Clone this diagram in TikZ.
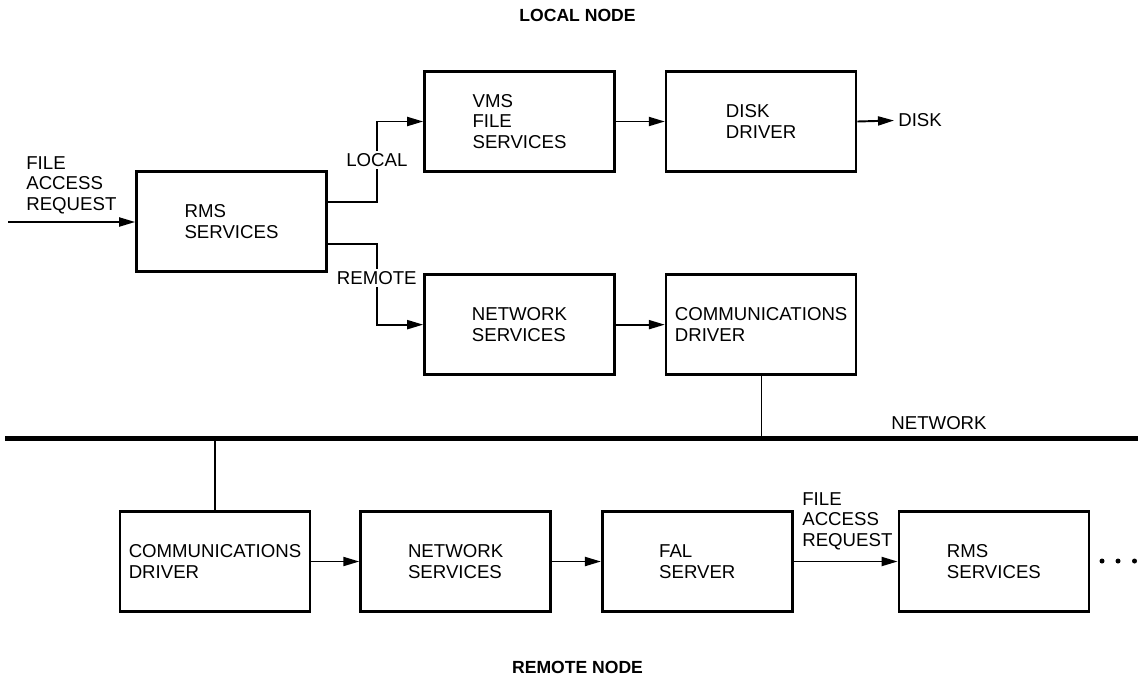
\documentclass[tikz,border=0pt]{standalone}
\usepackage{fontspec}
\setmainfont{Liberation Sans}
\usetikzlibrary{positioning, arrows.meta}
\newcommand{\dgmfont}{\fontsize{10.6}{11.6}\selectfont}

\begin{document}
\begin{tikzpicture}[
  blk/.style={draw, line width=1.5pt, minimum width=3.8cm, minimum height=2cm, align=left, font=\dgmfont},
  lbl/.style={align=left, font=\dgmfont, inner sep=0pt},
  title/.style={font=\fontsize{10}{12}\selectfont\bfseries},
  arr/.style={-{Triangle[length=3.2mm, width=1.8mm]}, line width=1.1pt},
  link/.style={line width=0.6pt},
  net/.style={line width=2.4pt}
]
  \useasboundingbox (0,0) rectangle (22.76,-13.56);

  \node[title] (ltitle) at (11.55,-0.3) {LOCAL NODE};
  \node[title] (rtitle) at (11.55,-13.34) {REMOTE NODE};

  % Local node: incoming request
  \node[blk] (rms) at (4.63,-4.43) {RMS\\SERVICES};
  \coordinate (req) at (0.16,-4.44);
  \node[lbl, anchor=south west] (reqlbl) at (0.52,-4.28) {FILE\\ACCESS\\REQUEST};
  \draw[arr] (req) -- (req -| rms.west);

  % Local branch down to the disk
  \node[blk] (vms) at (10.39,-2.43) {VMS\\FILE\\SERVICES};
  \node[blk, right=0.98cm of vms] (disk) {DISK\\DRIVER};
  \node[lbl, anchor=west] (dsk) at (17.96,-2.41) {DISK};
  \draw[arr] ([yshift=0.39cm]rms.east) -- ++(0.98,0) |- (vms.west)
    node[pos=0.26, lbl, fill=white, inner sep=1.5pt] (loclbl) {LOCAL};
  \draw[arr] (vms) -- (disk);
  \draw[arr] (disk.east) -- ([xshift=-0.08cm]dsk.west);

  % Remote branch out to the network
  \node[blk, below=2.01cm of vms] (netsvc) {NETWORK\\SERVICES};
  \node[blk, right=0.98cm of netsvc] (comm) {COMMUNICATIONS\\DRIVER};
  \draw[arr] ([yshift=-0.45cm]rms.east) -- ++(0.98,0) |- (netsvc.west)
    node[pos=0.21, lbl, fill=white, inner sep=1.5pt] (remlbl) {REMOTE};
  \draw[arr] (netsvc) -- (comm);

  % Network bus
  \coordinate (netL) at (0.1,-8.77);
  \coordinate (netR) at (22.76,-8.77);
  \draw[net] (netL) -- (netR);
  \node[lbl] (netlbl) at (18.78,-8.46) {NETWORK};
  \draw[link] (comm.south) -- (comm.south |- netL);

  % Remote node
  \node[blk] (rcomm) at (4.30,-11.23) {COMMUNICATIONS\\DRIVER};
  \node[blk, right=0.96cm of rcomm] (rnet) {NETWORK\\SERVICES};
  \node[blk, right=0.98cm of rnet] (fal) {FAL\\SERVER};
  \node[blk, right=2.08cm of fal] (rrms) {RMS\\SERVICES};
  \node[lbl, anchor=south west] (rreqlbl) at (16.04,-11.0) {FILE\\ACCESS\\REQUEST};
  \draw[link] (rcomm.north) -- (rcomm.north |- netL);
  \draw[arr] (rcomm) -- (rnet);
  \draw[arr] (rnet) -- (fal);
  \draw[arr] (fal) -- (rrms);
  \foreach \x in {22.04,22.36,22.69}
    \fill (\x,-11.22) circle (0.05);
\end{tikzpicture}
\end{document}
